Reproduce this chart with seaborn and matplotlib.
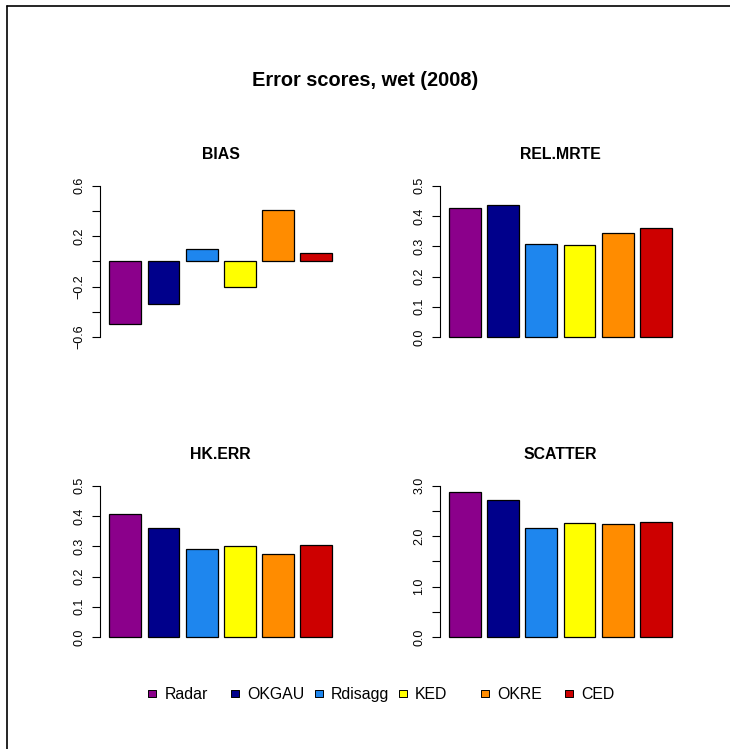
import numpy as np
import pandas as pd
import matplotlib
matplotlib.use("Agg")
import matplotlib.pyplot as plt
from matplotlib.lines import Line2D
import seaborn as sns

# ---- data ----
models = ["Radar", "OKGAU", "Rdisagg", "KED", "OKRE", "CED"]
colors = ["#8B008B", "#00008B", "#1E86EE", "#FFFF00", "#FF8C00", "#CD0000"]
bias = [-0.50, -0.335, 0.097, -0.205, 0.41, 0.068]
rel_mrte = [0.427, 0.437, 0.307, 0.303, 0.345, 0.362]
hk_err = [0.407, 0.362, 0.290, 0.300, 0.276, 0.303]
scatter = [2.87, 2.72, 2.155, 2.26, 2.235, 2.286]
panel_titles = ["BIAS", "REL.MRTE", "HK.ERR", "SCATTER"]
panel_values = [bias, rel_mrte, hk_err, scatter]
tick_values = [
    [-0.6, -0.4, -0.2, 0.0, 0.2, 0.4, 0.6],
    [0.0, 0.1, 0.2, 0.3, 0.4, 0.5],
    [0.0, 0.1, 0.2, 0.3, 0.4, 0.5],
    [0.0, 0.5, 1.0, 1.5, 2.0, 2.5, 3.0],
]
tick_labels = [
    ["\u22120.6", "", "\u22120.2", "", "0.2", "", "0.6"],
    ["0.0", "0.1", "0.2", "0.3", "0.4", "0.5"],
    ["0.0", "0.1", "0.2", "0.3", "0.4", "0.5"],
    ["0.0", "", "1.0", "", "2.0", "", "3.0"],
]
main_title = "Error scores, wet (2008)"

sns.set_theme(style="white")
plt.rcParams["font.family"] = ["Liberation Sans", "DejaVu Sans"]
plt.rcParams["text.color"] = "black"
plt.rcParams["axes.labelcolor"] = "black"
plt.rcParams["ytick.color"] = "black"
plt.rcParams["xtick.color"] = "black"

W, H = 730, 749
fig = plt.figure(figsize=(W / 100, H / 100), dpi=100)
fig.patch.set_facecolor("white")

# axes positions (pixels -> fractions)
ax_w = 240.6 / W
ax_h = 163.4 / H
lefts = [100.4 / W, 440.1 / W]
bottoms = [1 - 343.1 / H, 1 - 643.1 / H]

palette = dict(zip(models, colors))

for i, (title, vals, tv, tl) in enumerate(zip(panel_titles, panel_values, tick_values, tick_labels)):
    r, c = divmod(i, 2)
    ax = fig.add_axes([lefts[c], bottoms[r], ax_w, ax_h])
    df = pd.DataFrame({"model": models, "value": vals})
    sns.barplot(data=df, x="model", y="value", hue="model", palette=palette,
                saturation=1, legend=False, width=0.833, edgecolor="black",
                linewidth=0.9, errorbar=None, ax=ax)
    ax.set_xlim(-0.651, 5.651)
    lo, hi = min(tv), max(tv)
    ext = 0.04 * (hi - lo)
    ax.set_ylim(lo - ext, hi + ext)
    for s in ["top", "right", "bottom"]:
        ax.spines[s].set_visible(False)
    ax.spines["left"].set_bounds(lo, hi)
    ax.spines["left"].set_color("black")
    ax.spines["left"].set_linewidth(0.8)
    ax.set_yticks(tv)
    ax.set_yticklabels(tl, rotation=90, va="center", fontsize=9)
    ax.tick_params(axis="y", which="both", left=True, length=5.8, width=0.8,
                   color="black", pad=5, labelcolor="black")
    ax.set_xticks([])
    ax.set_xlabel("")
    ax.set_ylabel("")
    ax.grid(False)
    ax.set_facecolor("none")
    ax.text(0.5, 1 + 25.5 / 163.4, title, transform=ax.transAxes,
            ha="center", va="center", fontweight="bold", fontsize=11.4,
            color="black")

fig.text(0.5, 1 - 80.5 / H, main_title, ha="center", va="center",
         fontweight="bold", fontsize=14.4, color="black")

# legend row drawn in an overlay axes in pixel coordinates
lax = fig.add_axes([0, 0, 1, 1])
lax.set_xlim(0, W)
lax.set_ylim(H, 0)
lax.axis("off")
marker_x = [151.7, 235.3, 318.7, 402.7, 485.3, 569.3]
text_x = [165.0, 247.3, 331.0, 414.3, 497.7, 581.0]
leg_df = pd.DataFrame({"model": models, "x": marker_x, "y": [693.6] * len(models)})
sns.scatterplot(data=leg_df, x="x", y="y", hue="model", palette=palette,
                marker="s", s=30, edgecolor="black", linewidth=0.7,
                legend=False, ax=lax)
lax.set_xlim(0, W)
lax.set_ylim(H, 0)
lax.axis("off")
for m, tx in zip(models, text_x):
    lax.text(tx, 699.2, m, ha="left", va="baseline", fontsize=11.4, color="black")

# outer frame (left and top edges)
fig.add_artist(Line2D([7 / W, 7 / W], [0, 1 - 5.5 / H], color="black",
                      linewidth=1.2, transform=fig.transFigure))
fig.add_artist(Line2D([7 / W, 1], [1 - 5.5 / H, 1 - 5.5 / H], color="black",
                      linewidth=1.2, transform=fig.transFigure))

fig.savefig("out.png", dpi=100, facecolor="white")
